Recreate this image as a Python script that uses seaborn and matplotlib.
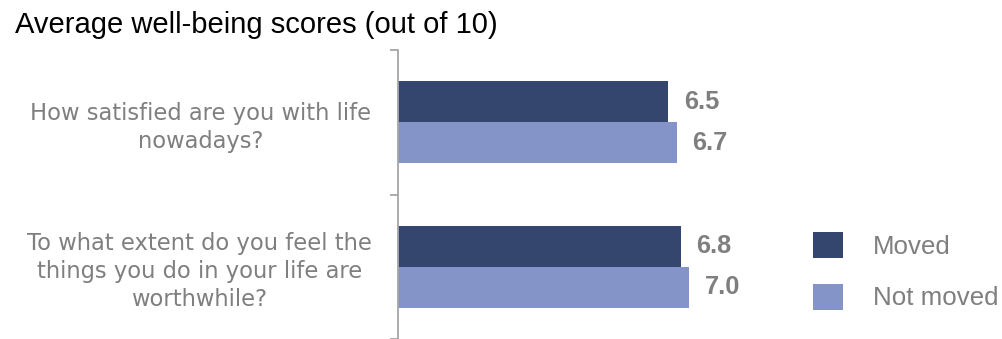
import matplotlib
matplotlib.use("Agg")
import matplotlib.pyplot as plt
from matplotlib.patches import Patch
import pandas as pd
import seaborn as sns

# Survey questions, groups and mean scores (out of 10)
questions = [
    "How satisfied are you with life\nnowadays?",
    "To what extent do you feel the\nthings you do in your life are\nworthwhile?",
]
groups = ["Moved", "Not moved"]
moved_scores = [6.5, 6.8]
not_moved_scores = [6.7, 7.0]

title = "Average well-being scores (out of 10)"
colors = ["#34466E", "#8594C8"]
label_gray = "#7F7F7F"

df = pd.DataFrame({
    "question": questions * 2,
    "group": [groups[0]] * len(questions) + [groups[1]] * len(questions),
    "score": moved_scores + not_moved_scores,
})

sns.set_theme(style="white")
plt.rcParams["font.family"] = ["Liberation Sans", "DejaVu Sans"]

W, H = 1002, 339
fig = plt.figure(figsize=(W / 100, H / 100), dpi=100)
ax = fig.add_axes([398 / W, 0.0, 374.4 / W, (H - 50) / H])

sns.barplot(
    data=df, y="question", x="score", hue="group", order=questions,
    hue_order=groups, palette=colors, width=0.566, orient="h",
    linewidth=0, saturation=1, legend=False, ax=ax,
)

ax.set_xlim(0, 9)
ax.set_ylim(1.5, -0.5)
ax.set_xlabel("")
ax.set_ylabel("")
ax.xaxis.set_visible(False)

for side in ("top", "right", "bottom"):
    ax.spines[side].set_visible(False)
ax.spines["left"].set_color("#A6A6A6")
ax.spines["left"].set_linewidth(1.3)

# Major ticks mark the category boundaries; minor ticks carry the labels
ax.set_yticks([-0.5, 0.5, 1.5])
ax.set_yticklabels([])
ax.set_yticks([0, 1], minor=True)
ax.set_yticklabels(questions, minor=True)
ax.tick_params(axis="y", which="major", left=True, length=6, width=1.3,
               color="#A6A6A6")
ax.tick_params(axis="y", which="minor", left=False, length=0, pad=19)
for lbl in ax.get_yticklabels(minor=True):
    lbl.set_fontfamily("DejaVu Sans")
    lbl.set_fontsize(16.3)
    lbl.set_color(label_gray)
    lbl.set_multialignment("center")
    lbl.set_linespacing(1.27)

for container in ax.containers:
    ax.bar_label(container, fmt="%.1f", padding=11, fontsize=18.3,
                 fontweight="bold", color=label_gray,
                 family="Liberation Sans")

fig.text(15 / W, 1 - 33 / H, title, ha="left", va="baseline",
         fontsize=21, color="black")

handles = [Patch(facecolor=c, edgecolor="none") for c in colors]
fig.legend(
    handles, groups, loc="upper left",
    bbox_to_anchor=(813 / W, 1 - 232 / H), frameon=False,
    fontsize=18.6, labelcolor=label_gray, borderpad=0, borderaxespad=0,
    handlelength=1.16, handleheight=1.2, handletextpad=1.16,
    labelspacing=0.95,
)

fig.savefig("out.png", dpi=100)
